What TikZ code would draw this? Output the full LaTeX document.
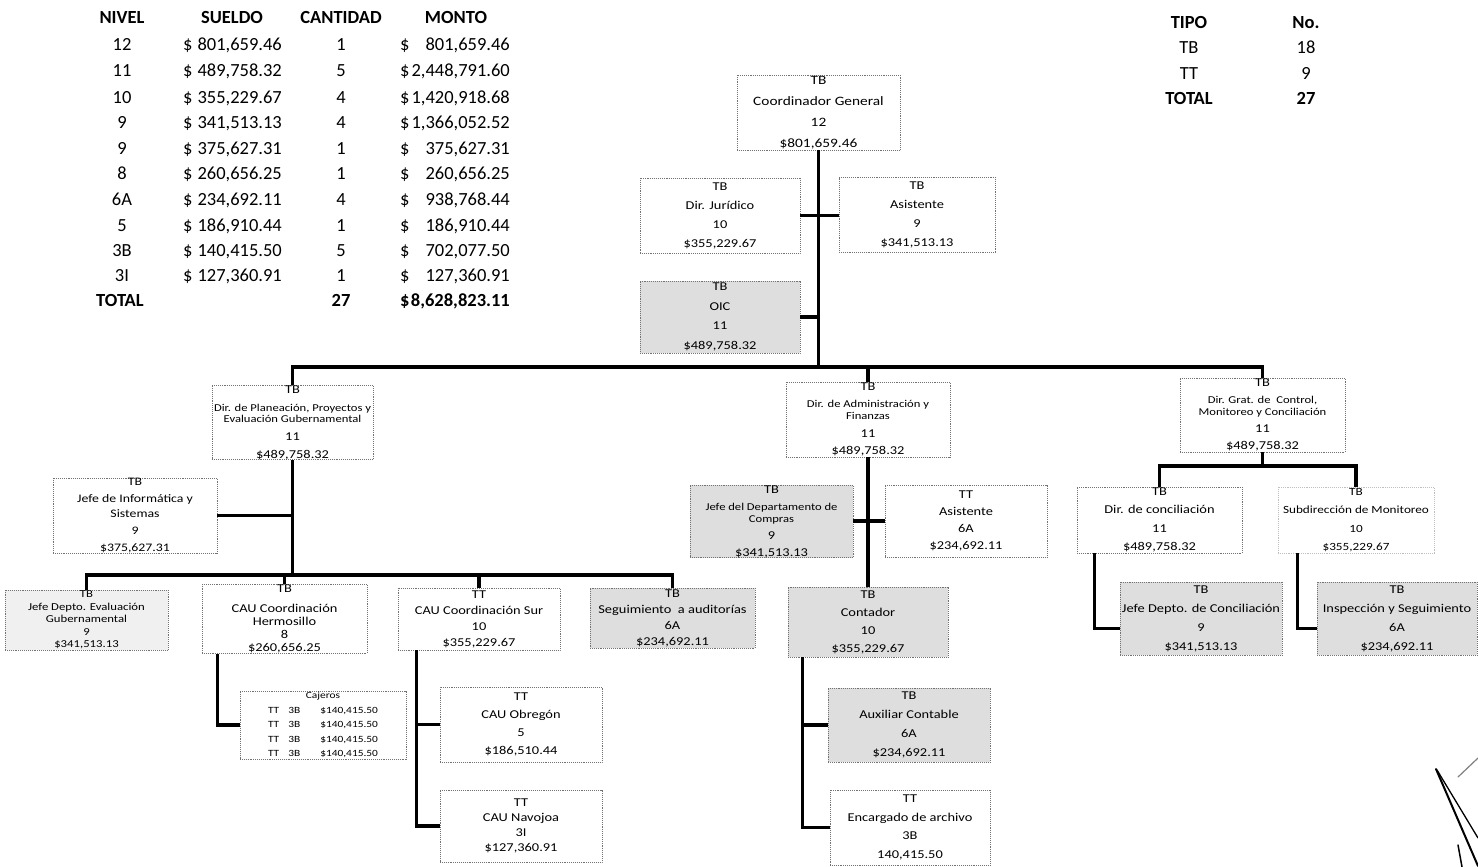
\documentclass[tikz,border=0pt]{standalone}
\usepackage{fontspec}
\setmainfont{Carlito}
\newfontfamily\bxf[FakeStretch=1.2]{Carlito}
\newcommand\smf{\fontsize{10.5}{11}\selectfont}
\newcommand\orgbox[7]{%
  \node[bx,#6,minimum width={(#4-#2)*1pt},minimum height={(#5-#3)*1pt}] (#1) at ({(#2+#4)/2},{(#3+#5)/2}) {#7};}
\newcommand\trow[6]{%
  \node[tb,anchor=base] (#1n) at (122,#2) {#3};
  \node[tb,anchor=base west] (#1d) at (183,#2) {\$};
  \node[tb,anchor=base east] (#1s) at (282,#2) {#4};
  \node[tb,anchor=base] (#1c) at (341,#2) {#5};
  \node[tb,anchor=base west] (#1e) at (400,#2) {\$};
  \node[tb,anchor=base east] (#1m) at (510,#2) {#6};}
\tikzset{
  bx/.style={draw=black!55, densely dotted, line width=0.9pt, inner sep=0pt, align=center, font=\bxf\fontsize{12}{18}\selectfont},
  shd/.style={fill=gray!26},
  lsh/.style={fill=gray!12},
  conn/.style={line width=3.8pt, draw=black},
  tb/.style={inner sep=0pt, font=\fontsize{18.5}{20}\selectfont},
  tbb/.style={inner sep=0pt, font=\bfseries\fontsize{18.5}{20}\selectfont},
}
\begin{document}
\begin{tikzpicture}[x=1pt,y=-1pt]
\useasboundingbox (0,0) rectangle (1478,867);
\fill[white] (0,0) rectangle (1478,867);

% ---------- table 1 ----------
\node[tbb,anchor=base] (hN) at (122,24) {NIVEL};
\node[tbb,anchor=base] (hS) at (232,24) {SUELDO};
\node[tbb,anchor=base] (hC) at (341,24) {CANTIDAD};
\node[tbb,anchor=base] (hM) at (456,24) {MONTO};
\trow{ra}{51}{12}{801,659.46}{1}{801,659.46}
\trow{rb}{77}{11}{489,758.32}{5}{2,448,791.60}
\trow{rc}{103}{10}{355,229.67}{4}{1,420,918.68}
\trow{rd}{128}{9}{341,513.13}{4}{1,366,052.52}
\trow{re}{154}{9}{375,627.31}{1}{375,627.31}
\trow{rf}{179}{8}{260,656.25}{1}{260,656.25}
\trow{rg}{205}{6A}{234,692.11}{4}{938,768.44}
\trow{rh}{231}{5}{186,910.44}{1}{186,910.44}
\trow{ri}{256}{3B}{140,415.50}{5}{702,077.50}
\trow{rj}{281}{3I}{127,360.91}{1}{127,360.91}
\node[tbb,anchor=base] (tT) at (120,306) {TOTAL};
\node[tbb,anchor=base] (tC) at (341,306) {27};
\node[tbb,anchor=base west] (tD) at (400,306) {\$};
\node[tbb,anchor=base east] (tM) at (510,306) {8,628,823.11};

% ---------- table 2 ----------
\node[tbb,anchor=base] (k1) at (1189,29) {TIPO};
\node[tbb,anchor=base] (k2) at (1306,29) {No.};
\node[tb,anchor=base] (k3) at (1189,54) {TB};
\node[tb,anchor=base] (k4) at (1306,54) {18};
\node[tb,anchor=base] (k5) at (1189,79) {TT};
\node[tb,anchor=base] (k6) at (1306,79) {9};
\node[tbb,anchor=base] (k7) at (1189,104) {TOTAL};
\node[tbb,anchor=base] (k8) at (1306,104) {27};

% ---------- boxes ----------
\orgbox{cg}{737}{75}{900}{150}{font=\bxf\fontsize{12.8}{21}\selectfont}{TB\\Coordinador General\\12\\\$801,659.46}
\orgbox{dj}{640}{178}{800}{253}{font=\bxf\fontsize{12}{19}\selectfont}{TB\\Dir. Jurídico\\10\\\$355,229.67}
\orgbox{as}{839}{177}{995}{252}{font=\bxf\fontsize{12}{19}\selectfont}{TB\\Asistente\\9\\\$341,513.13}
\orgbox{oic}{640}{281}{800}{353}{shd,font=\bxf\fontsize{12}{19.5}\selectfont}{TB\\OIC\\11\\\$489,758.32}

\orgbox{dp}{212}{387}{373}{458}{}{TB\\\smf Dir. de Planeación, Proyectos y\\[-7pt]\smf Evaluación Gubernamental\\11\\\$489,758.32}
\orgbox{da}{786}{382}{950}{457}{font=\bxf\fontsize{12}{17.5}\selectfont}{TB\\\smf Dir. de Administración y\\[-5.5pt]\smf Finanzas\\11\\\$489,758.32}
\orgbox{dg}{1180}{378}{1345}{452}{font=\bxf\fontsize{12}{17}\selectfont}{TB\\\smf Dir. Grat. de~ Control,\\[-5pt]\smf Monitoreo y Conciliación\\11\\\$489,758.32}

\orgbox{ji}{53}{478}{217}{553}{font=\bxf\fontsize{11.5}{17}\selectfont}{TB\\Jefe de Informática y\\[-2pt]Sistemas\\9\\\$375,627.31}

\orgbox{jd}{5}{590}{168}{650}{lsh,font=\bxf\fontsize{10.6}{12.5}\selectfont}{TB\\Jefe Depto. Evaluación\\Gubernamental\\9\\\$341,513.13}
\orgbox{ch}{202}{588}{367}{650}{font=\bxf\fontsize{12}{13}\selectfont}{TB\\[7pt]CAU Coordinación\\Hermosillo\\8\\\$260,656.25}
\orgbox{cs}{398}{588}{560}{650}{font=\bxf\fontsize{12}{16}\selectfont}{TT\\CAU Coordinación Sur\\10\\\$355,229.67}
\orgbox{sa}{590}{588}{755}{648}{shd,font=\bxf\fontsize{12}{16}\selectfont}{TB\\Seguimiento~ a auditorías\\6A\\\$234,692.11}

\orgbox{cj}{240}{691}{406}{759}{font=\bxf\fontsize{9.5}{14.5}\selectfont}{Cajeros\\TT\hspace{9pt}3B\hspace{20pt}\$140,415.50\\TT\hspace{9pt}3B\hspace{20pt}\$140,415.50\\TT\hspace{9pt}3B\hspace{20pt}\$140,415.50\\TT\hspace{9pt}3B\hspace{20pt}\$140,415.50}
\orgbox{co}{440}{687}{602}{762}{font=\bxf\fontsize{12}{18}\selectfont}{TT\\CAU Obregón\\5\\\$186,510.44}
\orgbox{cn}{440}{790}{602}{862}{font=\bxf\fontsize{12}{15}\selectfont}{TT\\CAU Navojoa\\3I\\\$127,360.91}

\orgbox{jc}{690}{486}{853}{557}{shd,font=\bxf\fontsize{12}{17}\selectfont}{TB\\\smf Jefe del Departamento de\\[-5pt]\smf Compras\\9\\\$341,513.13}
\orgbox{at}{885}{485}{1047}{557}{font=\bxf\fontsize{12}{17}\selectfont}{TT\\Asistente\\6A\\\$234,692.11}
\orgbox{ct}{788}{587}{948}{657}{shd,font=\bxf\fontsize{12}{18}\selectfont}{TB\\Contador\\10\\\$355,229.67}
\orgbox{ac}{828}{688}{990}{762}{shd,font=\bxf\fontsize{12}{19}\selectfont}{TB\\Auxiliar Contable\\6A\\\$234,692.11}
\orgbox{ea}{830}{790}{990}{865}{font=\bxf\fontsize{12}{18.5}\selectfont}{TT\\Encargado de archivo\\3B\\140,415.50}

\orgbox{dc}{1077}{487}{1242}{553}{font=\bxf\fontsize{12}{18.5}\selectfont}{TB\\Dir. de conciliación\\11\\\$489,758.32}
\orgbox{sm}{1278}{487}{1434}{553}{draw=black!25,font=\bxf\fontsize{11}{18.5}\selectfont}{TB\\Subdirección de Monitoreo\\10\\\$355,229.67}
\orgbox{jdc}{1120}{582}{1282}{655}{shd,font=\bxf\fontsize{12}{19}\selectfont}{TB\\Jefe Depto. de Conciliación\\9\\\$341,513.13}
\orgbox{is}{1317}{582}{1477}{655}{shd,font=\bxf\fontsize{12}{19}\selectfont}{TB\\Inspección y Seguimiento\\6A\\\$234,692.11}

% ---------- connectors ----------
\coordinate (bar) at (0,367);
\coordinate (sb) at (0,575);
\coordinate (sb2) at (0,466);

\draw[conn] (cg.south) -- (cg.south |- bar);
\draw[conn] (dj.east) -- (dj.east -| as.west);
\draw[conn] (oic.east) -- (oic.east -| cg.south);
\draw[conn] (dp.north) -- (dp.north |- bar) -- (dg.north |- bar) -- (dg.north);
\draw[conn] (da.north |- bar) -- (da.north);

\draw[conn] (dp.south) -- (dp.south |- sb);
\draw[conn] (ji.east) -- (ji.east -| dp.south);
\draw[conn] (jd.north) -- (jd.north |- sb) -- (sa.north |- sb) -- (sa.north);
\draw[conn] (ch.north |- sb) -- (ch.north);
\draw[conn] (cs.north |- sb) -- (cs.north);
\draw[conn] ([xshift=16pt]ch.south west) |- (cj.west);
\draw[conn] ([xshift=19pt]cs.south west) |- (co.west);
\draw[conn] ([xshift=19pt]cs.south west) |- (cn.west);

\draw[conn] (da.south) -- (da.south |- ct.north);
\draw[conn] (at.west -| jc.east) -- (at.west);
\draw[conn] ([xshift=15pt]ct.south west) |- (ac.west);
\draw[conn] ([xshift=15pt]ct.south west) |- (ea.west);

\draw[conn] (dg.south) -- (dg.south |- sb2);
\draw[conn] (dc.north) -- (dc.north |- sb2) -- (sm.north |- sb2) -- (sm.north);
\draw[conn] ([xshift=18pt]dc.south west) |- ([yshift=-10pt]jdc.west);
\draw[conn] ([xshift=20pt]sm.south west) |- ([yshift=-10pt]is.west);

% ---------- signature strokes ----------
\draw[line width=2pt, line cap=round] (1436,769) -- (1478,866);
\draw[line width=1.3pt, line cap=round] (1437,770) -- (1478,838);
\draw[line width=1.2pt, gray, line cap=round] (1458,777) -- (1478,758);
\draw[line width=1.5pt, line cap=round] (1458,845) -- (1462,867);
\end{tikzpicture}
\end{document}
